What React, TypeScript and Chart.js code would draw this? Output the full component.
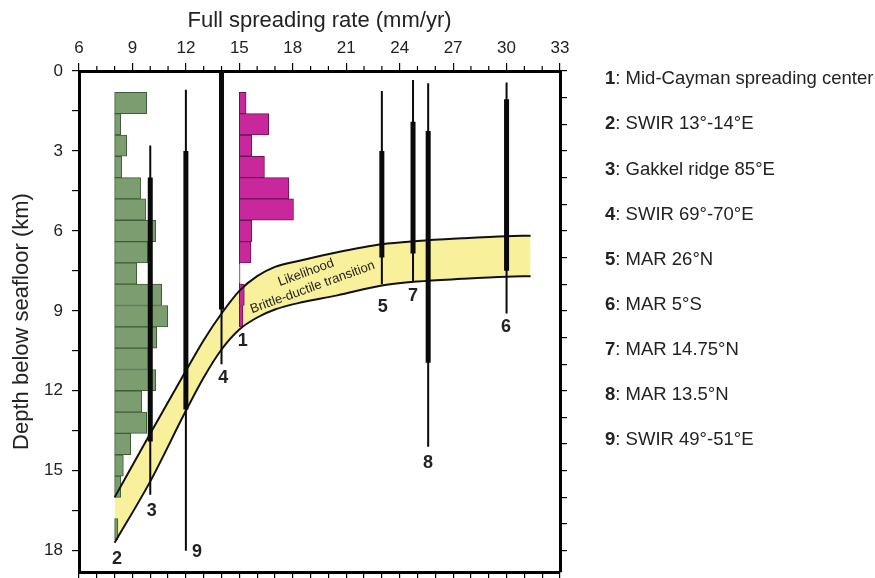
import React, { useEffect, useRef } from 'react';
import { Chart, registerables } from 'chart.js';

Chart.register(...registerables);

const FONT = "'Liberation Sans', Arial, Helvetica, sans-serif";

// Histogram bins (depth below seafloor, km; bin centres, 0.8 km wide)
const binDepths = [1.2, 2.0, 2.8, 3.6, 4.4, 5.2, 6.0, 6.8, 7.6, 8.4, 9.2, 10.0, 10.8, 11.6, 12.4, 13.2, 14.0, 14.8, 15.6, 16.4, 17.2];
// Site 2 (SWIR 13°-14°E) histogram: base rate and bar ends (mm/yr)
const site2Base = 8;
const site2Ends = [9.8, 8.34, 8.68, 8.4, 9.46, 9.74, 10.31, 9.86, 9.24, 10.64, 10.98, 10.36, 9.89, 10.31, 9.52, 9.8, 8.9, 8.49, 8.34, null, 8.18];
// Site 1 (Mid-Cayman) histogram
const site1Base = 15;
const site1Ends = [15.38, 16.65, 15.7, 16.41, 17.78, 18.04, 15.7, 15.65, 15.04, 15.28, 15.2];

// Seismicity depth ranges for the other sites
const barSites = ['3', '9', '4', '5', '7', '8', '6'];
const barRates = [10, 12, 14, 23, 24.75, 25.6, 30];
const thinTop = [2.8, 0.7, 0, 0.75, 0.34, 0.46, 0.43];
const thickTop = [4.0, 3.0, 0, 3.0, 1.9, 2.25, 1.06];
const thickBottom = [13.9, 12.7, 8.95, 7.0, 6.85, 10.95, 7.5];
const thinBottom = [15.9, 18.0, 11.0, 8.0, 7.9, 14.1, 9.1];

// Brittle-ductile transition band
const bandRates = [8, 10, 12, 13, 14, 15, 16, 17, 18.5, 20.5, 23, 25, 27.5, 30, 31.35];
const bandUpper = [16.0, 13.6, 11.25, 10.1, 9.1, 8.25, 7.7, 7.35, 7.1, 6.8, 6.5, 6.38, 6.28, 6.2, 6.18];
const bandLower = [17.7, 15.4, 12.75, 11.5, 10.45, 9.7, 9.25, 8.95, 8.68, 8.42, 8.05, 7.9, 7.8, 7.72, 7.7];

// Site number labels (anchor in data units)
const labelIds = ['1', '2', '3', '4', '5', '6', '7', '8', '9'];
const labelRates = [15.19, 8.13, 10.08, 14.1, 23.05, 29.97, 24.75, 25.59, 12.62];
const labelDepths = [10.15, 18.33, 16.52, 11.52, 8.84, 9.59, 8.44, 14.7, 18.06];

// Legend
const legendIds = ['1', '2', '3', '4', '5', '6', '7', '8', '9'];
const legendNames = [
  'Mid-Cayman spreading center',
  'SWIR 13°-14°E',
  'Gakkel ridge 85°E',
  'SWIR 69°-70°E',
  'MAR 26°N',
  'MAR 5°S',
  'MAR 14.75°N',
  'MAR 13.5°N',
  'SWIR 49°-51°E',
];

const xTicks = [6, 9, 12, 15, 18, 21, 24, 27, 30, 33];

const annotationsPlugin = {
  id: 'annotations',
  afterDatasetsDraw(chart: any) {
    const ctx = chart.ctx;
    const xs = chart.scales.x;
    const ys = chart.scales.y;
    ctx.save();
    ctx.fillStyle = '#222';
    ctx.font = `13px ${FONT}`;
    ctx.textAlign = 'center';
    ctx.textBaseline = 'middle';
    const txt = [
      { t: 'Likelihood', x: 18.74, y: 7.57 },
      { t: 'Brittle-ductile transition', x: 19.11, y: 8.12 },
    ];
    txt.forEach((o) => {
      ctx.save();
      ctx.translate(xs.getPixelForValue(o.x), ys.getPixelForValue(o.y));
      ctx.rotate((-20 * Math.PI) / 180);
      ctx.fillText(o.t, 0, 0);
      ctx.restore();
    });
    ctx.font = `bold 18px ${FONT}`;
    labelIds.forEach((id, i) => {
      ctx.fillText(id, xs.getPixelForValue(labelRates[i]), ys.getPixelForValue(labelDepths[i]));
    });
    ctx.restore();
  },
  afterDraw(chart: any) {
    const ctx = chart.ctx;
    const xs = chart.scales.x;
    const top = chart.chartArea.top;
    ctx.save();
    ctx.strokeStyle = '#000';
    ctx.lineWidth = 1.2;
    for (let v = 6; v <= 33; v++) {
      if (xTicks.includes(v)) continue;
      const px = xs.getPixelForValue(v);
      ctx.beginPath();
      ctx.moveTo(px, top - 1);
      ctx.lineTo(px, top - 5);
      ctx.stroke();
    }
    ctx.restore();
  },
};

const fixSize = (prop: 'width' | 'height', size: number) => (s: any) => {
  s[prop] = size;
  s.paddingTop = 0;
  s.paddingBottom = 0;
  s.paddingLeft = 0;
  s.paddingRight = 0;
};

export default function App() {
  const ref = useRef<HTMLCanvasElement>(null);

  useEffect(() => {
    const canvas = ref.current;
    if (!canvas) return;
    Chart.defaults.font.family = FONT;
    Chart.defaults.color = '#222';

    const datasets: any[] = [];
    datasets.push({
      type: 'line',
      data: bandRates.map((r, i) => ({ x: r, y: bandUpper[i] })),
      borderWidth: 0,
      borderColor: 'rgba(0,0,0,0)',
      pointRadius: 0,
      fill: '+1',
      backgroundColor: '#f8f09a',
      cubicInterpolationMode: 'monotone',
      order: 10,
    });
    datasets.push({
      type: 'line',
      data: bandRates.map((r, i) => ({ x: r, y: bandLower[i] })),
      borderWidth: 0,
      borderColor: 'rgba(0,0,0,0)',
      pointRadius: 0,
      fill: false,
      cubicInterpolationMode: 'monotone',
      order: 10,
    });
    const barCommon = {
      type: 'bar',
      indexAxis: 'y',
      borderWidth: 1,
      borderSkipped: false,
      grouped: false,
      barPercentage: 1,
      categoryPercentage: 1,
      order: 6,
    };
    datasets.push({
      ...barCommon,
      data: binDepths
        .map((d, i) => (site2Ends[i] == null ? null : { y: d, x: [site2Base, site2Ends[i]] }))
        .filter((p) => p !== null),
      backgroundColor: '#7b9d6f',
      borderColor: '#3e5c37',
    });
    datasets.push({
      ...barCommon,
      data: site1Ends.map((e, i) => ({ y: binDepths[i], x: [site1Base, e] })),
      backgroundColor: '#c8289b',
      borderColor: '#6e1256',
    });
    [bandUpper, bandLower].forEach((arr) => {
      datasets.push({
        type: 'line',
        data: bandRates.map((r, i) => ({ x: r, y: arr[i] })),
        borderWidth: 2,
        borderColor: '#111',
        pointRadius: 0,
        fill: false,
        cubicInterpolationMode: 'monotone',
        order: 4,
      });
    });
    barSites.forEach((s, i) => {
      datasets.push({
        type: 'line',
        data: [
          { x: barRates[i], y: thinTop[i] },
          { x: barRates[i], y: thinBottom[i] },
        ],
        borderWidth: 2,
        borderColor: '#0a0a0a',
        borderCapStyle: 'butt',
        pointRadius: 0,
        fill: false,
        order: 1,
      });
      datasets.push({
        type: 'line',
        data: [
          { x: barRates[i], y: thickTop[i] },
          { x: barRates[i], y: thickBottom[i] },
        ],
        borderWidth: 5,
        borderColor: '#0a0a0a',
        borderCapStyle: 'butt',
        pointRadius: 0,
        fill: false,
        order: 0,
      });
    });

    const tickFont = { size: 17, family: FONT };
    const chart = new Chart(canvas, {
      type: 'scatter',
      data: { datasets },
      options: {
        animation: false,
        responsive: false,
        devicePixelRatio: 1,
        layout: { padding: { left: 0, top: 0, right: 305, bottom: 0 } },
        plugins: { legend: { display: false }, tooltip: { enabled: false } },
        scales: {
          x: {
            type: 'linear',
            position: 'top',
            min: 6,
            max: 33,
            offset: false,
            ticks: { stepSize: 3, includeBounds: false, font: tickFont, color: '#222', padding: 4, maxRotation: 0 },
            grid: { display: true, offset: false, drawOnChartArea: false, drawTicks: true, tickLength: 8, color: '#000', lineWidth: 1.2 },
            border: { display: true, color: '#000', width: 3 },
            title: { display: true, text: 'Full spreading rate (mm/yr)', font: { size: 22, family: FONT }, color: '#222', padding: { top: 8, bottom: 0 } },
            afterFit: fixSize('height', 71),
          },
          xb: {
            type: 'linear',
            position: 'bottom',
            min: 6,
            max: 33,
            offset: false,
            ticks: { stepSize: 1, includeBounds: false, callback: () => '', padding: 0 },
            grid: { display: true, offset: false, drawOnChartArea: false, drawTicks: true, tickLength: 6, color: '#000', lineWidth: 1.2 },
            border: { display: true, color: '#000', width: 3 },
            afterFit: fixSize('height', 6),
          },
          y: {
            type: 'linear',
            position: 'left',
            reverse: true,
            min: 0,
            max: 18.8,
            offset: false,
            ticks: {
              stepSize: 1.5,
              includeBounds: false,
              font: tickFont,
              color: '#222',
              padding: 9,
              callback: (v: any) => (Math.abs(v % 3) < 1e-6 ? String(v) : ''),
            },
            grid: { display: true, offset: false, drawOnChartArea: false, drawTicks: true, tickLength: 7, color: '#000', lineWidth: 1.2 },
            border: { display: true, color: '#000', width: 3 },
            title: { display: true, text: 'Depth below seafloor (km)', font: { size: 22, family: FONT }, color: '#222', padding: { top: 9, bottom: 0 } },
            afterFit: fixSize('width', 79),
          },
          y2: {
            type: 'linear',
            position: 'right',
            reverse: true,
            min: 0,
            max: 18.8,
            offset: false,
            ticks: { stepSize: 1, includeBounds: false, callback: () => '', padding: 0 },
            grid: { display: true, offset: false, drawOnChartArea: false, drawTicks: true, tickLength: 7, color: '#000', lineWidth: 1.2 },
            border: { display: true, color: '#000', width: 3 },
            afterFit: fixSize('width', 10),
          },
        },
      } as any,
      plugins: [annotationsPlugin],
    });
    return () => chart.destroy();
  }, []);

  return (
    <div style={{ position: 'absolute', left: 0, top: 0, width: 875, height: 578, background: '#fff', overflow: 'hidden' }}>
      <canvas ref={ref} width={875} height={578} style={{ display: 'block', width: 875, height: 578 }} />
      {legendIds.map((id, i) => (
        <div
          key={id}
          style={{
            position: 'absolute',
            left: 605,
            top: 67.3 + 45.1 * i,
            fontFamily: FONT,
            fontSize: 18.5,
            lineHeight: '22px',
            color: '#222',
            whiteSpace: 'nowrap',
          }}
        >
          <b>{id}</b>: {legendNames[i]}
        </div>
      ))}
    </div>
  );
}
